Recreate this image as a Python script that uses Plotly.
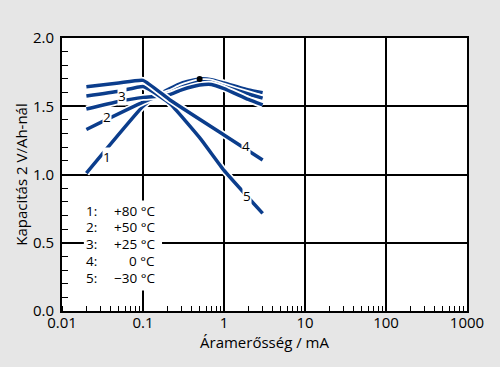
import math
import plotly.graph_objects as go

# Data
x1 = [0.02, 0.1, 0.15, 0.215, 0.3, 0.5, 0.7, 1.0, 2.0, 3.0]
y1 = [1.01, 1.50, 1.58, 1.63, 1.67, 1.70, 1.695, 1.67, 1.62, 1.60]
x2 = [0.02, 0.1, 0.15, 0.215, 0.3, 0.5, 0.7, 1.0, 2.0, 3.0]
y2 = [1.33, 1.53, 1.57, 1.60, 1.64, 1.68, 1.675, 1.645, 1.59, 1.56]
x3 = [0.02, 0.05, 0.1, 0.2, 0.3, 0.5, 0.7, 1.0, 2.0, 3.0]
y3 = [1.48, 1.535, 1.565, 1.58, 1.62, 1.655, 1.66, 1.63, 1.55, 1.51]
x4 = [0.02, 0.05, 0.1, 0.215, 1.0, 3.0]
y4 = [1.643, 1.67, 1.69, 1.546, 1.29, 1.106]
x5 = [0.02, 0.05, 0.1, 0.13, 0.215, 0.5, 1.0, 2.0, 3.0]
y5 = [1.575, 1.61, 1.645, 1.61, 1.52, 1.27, 1.03, 0.83, 0.715]

series = [(x1, y1), (x2, y2), (x3, y3), (x5, y5), (x4, y4)]
curve_labels = ["1", "2", "3", "4", "5"]
label_x = [0.036, 0.036, 0.055, 1.87, 1.94]
label_y = [1.13, 1.42, 1.575, 1.21, 0.842]
legend_nums = ["1:", "2:", "3:", "4:", "5:"]
legend_temps = ["+80 °C", "+50 °C", "+25 °C", "0 °C", "−30 °C"]
legend_y = [0.733, 0.616, 0.494, 0.366, 0.242]
dot_x = [0.5]
dot_y = [1.70]
x_ticks = [0.01, 0.1, 1, 10, 100, 1000]
x_tick_text = ["0.01", "0.1", "1", "10", "100", "1000"]

BLUE = "#0b3d8c"
FONT = "Open Sans"
lg = math.log10

fig = go.Figure()
for xs, ys in series:
    fig.add_trace(go.Scatter(x=xs, y=ys, mode="lines",
                             line=dict(color="white", width=7, shape="spline", smoothing=0.4),
                             hoverinfo="skip"))
    fig.add_trace(go.Scatter(x=xs, y=ys, mode="lines",
                             line=dict(color=BLUE, width=3.5, shape="spline", smoothing=0.4)))
fig.add_trace(go.Scatter(x=dot_x, y=dot_y, mode="markers",
                         marker=dict(color="black", size=6)))

for t, lx, ly in zip(curve_labels, label_x, label_y):
    fig.add_annotation(x=lg(lx), y=ly, xref="x", yref="y", text=t, showarrow=False,
                       font=dict(size=13.5, color="black", family=FONT),
                       bgcolor="white", borderpad=0)

# legend box (white patch over grid)
fig.add_shape(type="rect", xref="paper", yref="paper", x0=0.054, x1=0.247, y0=0.075, y1=0.405,
              fillcolor="white", line=dict(width=0), layer="above")
for n, tmp, yl in zip(legend_nums, legend_temps, legend_y):
    fig.add_annotation(x=lg(0.0187), y=yl, xref="x", yref="y", text=n, showarrow=False,
                       xanchor="left", font=dict(size=13.5, color="black", family=FONT))
    fig.add_annotation(x=lg(0.149), y=yl, xref="x", yref="y", text=tmp, showarrow=False,
                       xanchor="right", font=dict(size=13.5, color="black", family=FONT))

fig.update_layout(
    width=500, height=367,
    margin=dict(l=62, r=33, t=38, b=56),
    paper_bgcolor="#e6e6e6", plot_bgcolor="white",
    showlegend=False,
    font=dict(family=FONT, size=15, color="black"),
)
fig.update_xaxes(type="log", range=[-2, 3], tickvals=x_ticks, ticktext=x_tick_text,
                 showgrid=True, gridcolor="black", gridwidth=2,
                 showline=True, linecolor="black", linewidth=2, mirror=True,
                 ticks="", tickfont=dict(size=15), automargin=False,
                 ticklabelstandoff=-3,
                 minor=dict(ticks="inside", ticklen=5, tickcolor="black", tickwidth=1,
                            dtick="D1", showgrid=False),
                 title=dict(text="Áramerősség / mA", font=dict(size=15), standoff=0),
                 zeroline=False)
fig.update_yaxes(range=[0, 2], dtick=0.5, tickformat=".1f",
                 showgrid=True, gridcolor="black", gridwidth=2,
                 showline=True, linecolor="black", linewidth=2, mirror=True,
                 ticks="", tickfont=dict(size=15), automargin=False,
                 ticklabelstandoff=3,
                 minor=dict(ticks="inside", ticklen=6, tickcolor="black", tickwidth=1,
                            dtick=0.1, showgrid=False),
                 title=dict(text="Kapacitás 2 V/Ah-nál", font=dict(size=15), standoff=2),
                 zeroline=False)

fig.write_html("out.html", config={"displayModeBar": False},
               post_script="document.body.style.margin='0';")
